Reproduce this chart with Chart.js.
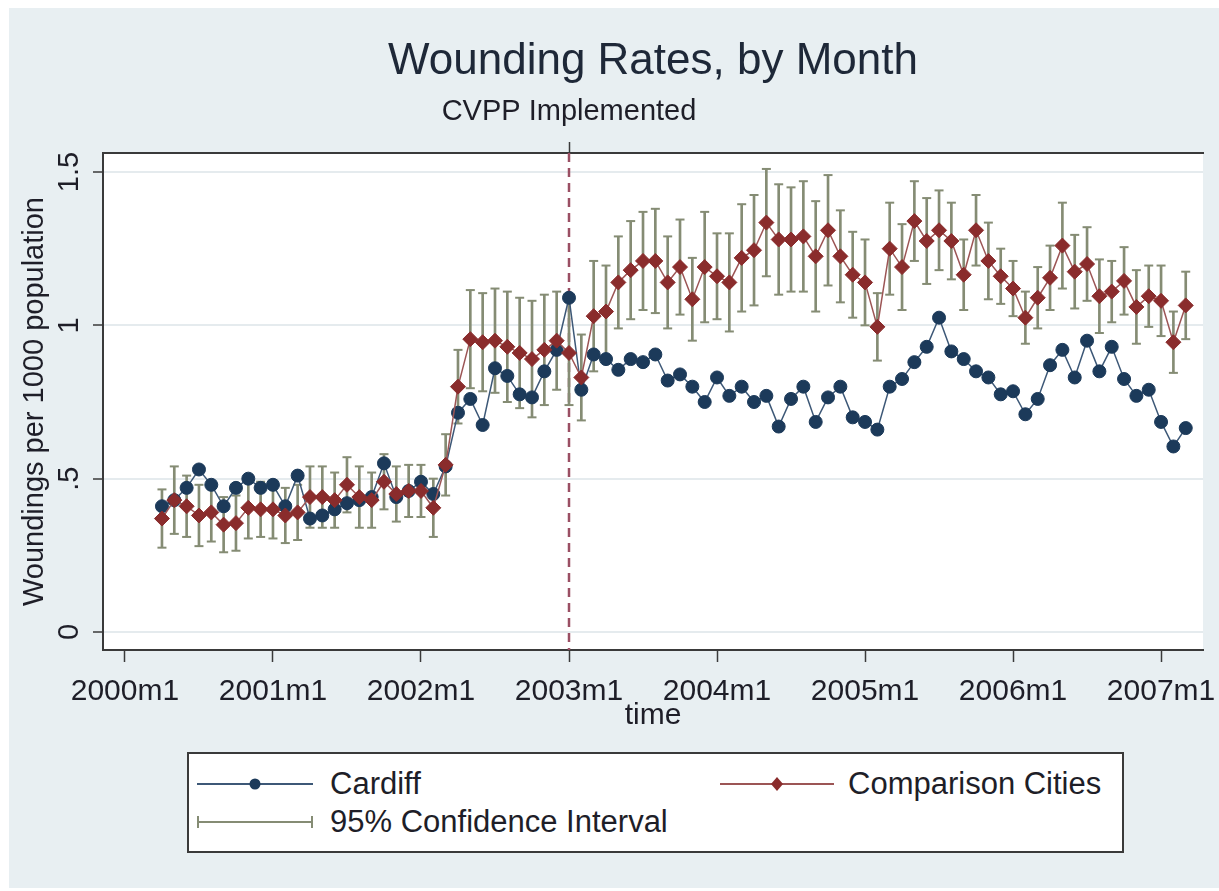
<!DOCTYPE html>
<html>
<head>
<meta charset="utf-8">
<title>Wounding Rates, by Month</title>
<script src="https://cdn.jsdelivr.net/npm/chart.js@4.4.1/dist/chart.umd.min.js"></script>
<style>
    html, body { margin: 0; padding: 0; background: #ffffff; }
    #wrap { position: relative; width: 1219px; height: 891px; overflow: hidden; }
    #chart { position: absolute; left: 0; top: 0; }
    #legend {
        position: absolute; left: 187px; top: 752px; width: 933px; height: 97px;
        border: 2px solid #3a3a3a; background: #ffffff;
        font-family: "Liberation Sans", Arial, sans-serif; font-size: 31px; color: #1e1e28;
    }
    #legend svg, #legend span { position: absolute; }
    #legend span { line-height: 36px; white-space: nowrap; }
</style>
</head>
<body>
<div id="wrap">
    <canvas id="chart" width="1219" height="891"></canvas>
    <div id="legend">
        <svg style="left:8px;top:20px" width="116" height="20">
            <line x1="0" y1="10" x2="116" y2="10" stroke="#3d5877" stroke-width="2"/>
            <circle cx="58" cy="10" r="5.5" fill="#1c3a5a"/>
        </svg>
        <span style="left:141px;top:12px">Cardiff</span>
        <svg style="left:531px;top:20px" width="114" height="20">
            <line x1="0" y1="10" x2="114" y2="10" stroke="#9c5555" stroke-width="2"/>
            <polygon points="57,3 63,10 57,17 51,10" fill="#8a2c2c"/>
        </svg>
        <span style="left:659px;top:12px">Comparison Cities</span>
        <svg style="left:8px;top:58px" width="116" height="20">
            <line x1="1" y1="10" x2="115" y2="10" stroke="#858c74" stroke-width="2"/>
            <line x1="1" y1="4" x2="1" y2="16" stroke="#858c74" stroke-width="2"/>
            <line x1="115" y1="4" x2="115" y2="16" stroke="#858c74" stroke-width="2"/>
        </svg>
        <span style="left:141px;top:50px">95% Confidence Interval</span>
    </div>
</div>
<script>
// monthly observations, 2000m4 .. 2007m3
const months = [
    '2000m4','2000m5','2000m6','2000m7','2000m8','2000m9','2000m10','2000m11','2000m12',
    '2001m1','2001m2','2001m3','2001m4','2001m5','2001m6','2001m7','2001m8','2001m9','2001m10','2001m11','2001m12',
    '2002m1','2002m2','2002m3','2002m4','2002m5','2002m6','2002m7','2002m8','2002m9','2002m10','2002m11','2002m12',
    '2003m1','2003m2','2003m3','2003m4','2003m5','2003m6','2003m7','2003m8','2003m9','2003m10','2003m11','2003m12',
    '2004m1','2004m2','2004m3','2004m4','2004m5','2004m6','2004m7','2004m8','2004m9','2004m10','2004m11','2004m12',
    '2005m1','2005m2','2005m3','2005m4','2005m5','2005m6','2005m7','2005m8','2005m9','2005m10','2005m11','2005m12',
    '2006m1','2006m2','2006m3','2006m4','2006m5','2006m6','2006m7','2006m8','2006m9','2006m10','2006m11','2006m12',
    '2007m1','2007m2','2007m3'
];

const cardiff = [
    0.41, 0.43, 0.47, 0.53, 0.48, 0.41, 0.47, 0.50, 0.47,
    0.48, 0.41, 0.51, 0.37, 0.38, 0.40, 0.42, 0.43, 0.44, 0.55, 0.44, 0.46,
    0.49, 0.45, 0.54, 0.715, 0.76, 0.675, 0.86, 0.835, 0.775, 0.765, 0.85, 0.92,
    1.09, 0.79, 0.905, 0.89, 0.855, 0.89, 0.88, 0.905, 0.82, 0.84, 0.80, 0.75,
    0.83, 0.77, 0.80, 0.75, 0.77, 0.67, 0.76, 0.80, 0.685, 0.765, 0.80, 0.70,
    0.685, 0.66, 0.80, 0.825, 0.88, 0.93, 1.025, 0.915, 0.89, 0.85, 0.83, 0.775,
    0.785, 0.71, 0.76, 0.87, 0.92, 0.83, 0.95, 0.85, 0.93, 0.825, 0.77, 0.79,
    0.685, 0.605, 0.665
];

const comparison = [
    0.37, 0.43, 0.41, 0.38, 0.39, 0.35, 0.355, 0.405, 0.40,
    0.40, 0.38, 0.39, 0.44, 0.44, 0.43, 0.48, 0.44, 0.43, 0.49, 0.45, 0.46,
    0.46, 0.405, 0.545, 0.80, 0.955, 0.945, 0.95, 0.93, 0.91, 0.89, 0.92, 0.95,
    0.91, 0.83, 1.03, 1.045, 1.14, 1.18, 1.21, 1.21, 1.14, 1.19, 1.085, 1.19,
    1.16, 1.14, 1.22, 1.245, 1.335, 1.28, 1.28, 1.29, 1.225, 1.31, 1.225, 1.165,
    1.14, 0.995, 1.25, 1.19, 1.34, 1.275, 1.31, 1.275, 1.165, 1.31, 1.21, 1.16,
    1.12, 1.025, 1.09, 1.155, 1.26, 1.175, 1.20, 1.095, 1.11, 1.145, 1.06, 1.095,
    1.08, 0.945, 1.065
];

// half width of the 95% interval around the comparison cities
const ciHalf = [
    0.095, 0.11, 0.10, 0.10, 0.095, 0.09, 0.09, 0.10, 0.09,
    0.095, 0.09, 0.09, 0.10, 0.10, 0.09, 0.09, 0.10, 0.09, 0.09, 0.09, 0.085,
    0.085, 0.095, 0.10, 0.12, 0.16, 0.16, 0.17, 0.18, 0.18, 0.19, 0.18, 0.16,
    0.17, 0.14, 0.18, 0.15, 0.15, 0.16, 0.16, 0.17, 0.15, 0.155, 0.135, 0.18,
    0.14, 0.16, 0.175, 0.18, 0.175, 0.18, 0.17, 0.18, 0.18, 0.18, 0.15, 0.14,
    0.14, 0.11, 0.15, 0.14, 0.13, 0.14, 0.13, 0.125, 0.115, 0.115, 0.125, 0.09,
    0.09, 0.085, 0.10, 0.105, 0.14, 0.12, 0.12, 0.12, 0.10, 0.11, 0.12, 0.10,
    0.115, 0.10, 0.11
];

const tickLabels = ['2000m1', '2001m1', '2002m1', '2003m1', '2004m1', '2005m1', '2006m1', '2007m1'];
const yTicks = [0, 0.5, 1, 1.5];
const yTickLabels = ['0', '.5', '1', '1.5'];
const cvppMonth = '2003m1';
const cvppLabel = 'CVPP Implemented';

// '2003m1' -> months since 2000m1
function monthNum(s) {
    const [y, m] = s.split('m').map(Number);
    return (y - 2000) * 12 + (m - 1);
}

const xs = months.map(monthNum);
const tickMonths = tickLabels.map(monthNum);
const cvppX = monthNum(cvppMonth);

const FONT = '"Liberation Sans", Arial, sans-serif';
const TEXT = '#1e1e28';
const DARK = '#3a3a3a';
const CI = '#858c74';
const X_MIN = -1.78, X_MAX = 87.4;

const backdrop = {
    id: 'backdrop',
    beforeDraw(chart) {
        const { ctx, chartArea: a } = chart;
        ctx.save();
        ctx.fillStyle = '#e8eff2';
        ctx.fillRect(9, 8, chart.width - 9, 880);
        ctx.fillStyle = '#ffffff';
        ctx.fillRect(a.left, a.top, a.right - a.left, a.bottom - a.top);
        ctx.restore();
    }
};

const cvppLine = {
    id: 'cvppLine',
    beforeDatasetsDraw(chart) {
        const { ctx, chartArea: a } = chart;
        const x = chart.scales.x.getPixelForValue(cvppX);
        ctx.save();
        ctx.strokeStyle = '#9a4f63';
        ctx.lineWidth = 2.5;
        ctx.setLineDash([9, 6]);
        ctx.beginPath();
        ctx.moveTo(x, a.top);
        ctx.lineTo(x, a.bottom);
        ctx.stroke();
        ctx.restore();
    }
};

// stata writes the y labels turned on their side
const sideLabels = {
    id: 'sideLabels',
    afterDraw(chart) {
        const { ctx } = chart;
        const y = chart.scales.y;
        ctx.save();
        ctx.fillStyle = TEXT;
        ctx.font = '29px ' + FONT;
        ctx.textAlign = 'center';
        ctx.textBaseline = 'middle';
        yTicks.forEach((v, i) => {
            ctx.save();
            ctx.translate(70, y.getPixelForValue(v));
            ctx.rotate(-Math.PI / 2);
            ctx.fillText(yTickLabels[i], 0, 0);
            ctx.restore();
        });
        ctx.restore();
    }
};

new Chart(document.getElementById('chart'), {
    type: 'line',
    data: {
        datasets: [
            {
                label: 'Comparison Cities',
                data: xs.map((x, i) => ({ x, y: comparison[i] })),
                borderColor: '#9c5555',
                borderWidth: 1.5,
                pointStyle: 'rectRot',
                pointRadius: 7.5,
                pointBackgroundColor: '#8a2c2c',
                pointBorderColor: '#8a2c2c',
                pointBorderWidth: 1,
                tension: 0,
                order: 0
            },
            {
                label: 'Cardiff',
                data: xs.map((x, i) => ({ x, y: cardiff[i] })),
                borderColor: '#3d5877',
                borderWidth: 1.5,
                pointStyle: 'circle',
                pointRadius: 6.5,
                pointBackgroundColor: '#1c3a5a',
                pointBorderColor: '#1c3a5a',
                pointBorderWidth: 1,
                tension: 0,
                order: 1
            },
            {
                type: 'bar',
                label: '95% Confidence Interval',
                data: xs.map((x, i) => ({ x, y: [comparison[i] - ciHalf[i], comparison[i] + ciHalf[i]] })),
                backgroundColor: CI,
                borderWidth: 0,
                barThickness: 2,
                grouped: false,
                order: 2
            },
            {
                label: 'ci upper',
                data: xs.map((x, i) => ({ x, y: comparison[i] + ciHalf[i] })),
                showLine: false,
                pointStyle: 'line',
                pointRadius: 4.5,
                pointBorderColor: CI,
                pointBorderWidth: 2,
                order: 2
            },
            {
                label: 'ci lower',
                data: xs.map((x, i) => ({ x, y: comparison[i] - ciHalf[i] })),
                showLine: false,
                pointStyle: 'line',
                pointRadius: 4.5,
                pointBorderColor: CI,
                pointBorderWidth: 2,
                order: 2
            }
        ]
    },
    options: {
        responsive: false,
        animation: false,
        devicePixelRatio: 1,
        events: [],
        layout: { padding: { left: 0, right: 16, top: 0, bottom: 0 } },
        plugins: {
            legend: { display: false },
            tooltip: { enabled: false },
            title: {
                display: true,
                fullSize: false,
                text: 'Wounding Rates, by Month',
                color: '#1e2838',
                font: { family: FONT, size: 44, weight: 'normal', lineHeight: 1 },
                padding: { top: 40, bottom: 0 }
            }
        },
        scales: {
            x: {
                type: 'linear',
                position: 'bottom',
                min: X_MIN,
                max: X_MAX,
                offset: false,
                afterBuildTicks: s => { s.ticks = tickMonths.map(v => ({ value: v })); },
                afterFit: s => { s.height = 241; s.paddingLeft = 0; s.paddingRight = 0; },
                ticks: {
                    autoSkip: false,
                    maxRotation: 0,
                    padding: 12,
                    color: TEXT,
                    font: { family: FONT, size: 30 },
                    callback: v => tickLabels[tickMonths.indexOf(v)]
                },
                grid: { offset: false, drawOnChartArea: false, drawTicks: true, tickLength: 12, tickColor: DARK, tickWidth: 1.5 },
                border: { display: true, color: DARK, width: 2 },
                title: {
                    display: true,
                    text: 'time',
                    color: TEXT,
                    font: { family: FONT, size: 30, lineHeight: 1 },
                    padding: { top: 0, bottom: 160 }
                }
            },
            x2: {
                type: 'linear',
                position: 'top',
                min: X_MIN,
                max: X_MAX,
                offset: false,
                afterBuildTicks: s => { s.ticks = [{ value: cvppX }]; },
                afterFit: s => { s.height = 69; s.paddingLeft = 0; s.paddingRight = 0; },
                ticks: {
                    autoSkip: false,
                    maxRotation: 0,
                    padding: 12.6,
                    color: TEXT,
                    font: { family: FONT, size: 29 },
                    callback: () => cvppLabel
                },
                grid: { offset: false, drawOnChartArea: false, drawTicks: true, tickLength: 11, tickColor: DARK, tickWidth: 1.5 },
                border: { display: true, color: DARK, width: 2 }
            },
            y: {
                type: 'linear',
                position: 'left',
                min: -0.0587,
                max: 1.562,
                afterBuildTicks: s => { s.ticks = yTicks.map(v => ({ value: v })); },
                afterFit: s => { s.width = 103; s.paddingTop = 0; s.paddingBottom = 0; },
                ticks: { display: false },
                grid: { color: '#e5ebee', lineWidth: 2, drawTicks: true, tickLength: 10, tickColor: DARK, tickWidth: 1.5 },
                border: { display: true, color: DARK, width: 2 },
                title: {
                    display: true,
                    text: 'Woundings per 1000 population',
                    color: TEXT,
                    font: { family: FONT, size: 29, lineHeight: 1 },
                    padding: { top: 20.5, bottom: 0 }
                }
            }
        }
    },
    plugins: [backdrop, cvppLine, sideLabels]
});
</script>
</body>
</html>
